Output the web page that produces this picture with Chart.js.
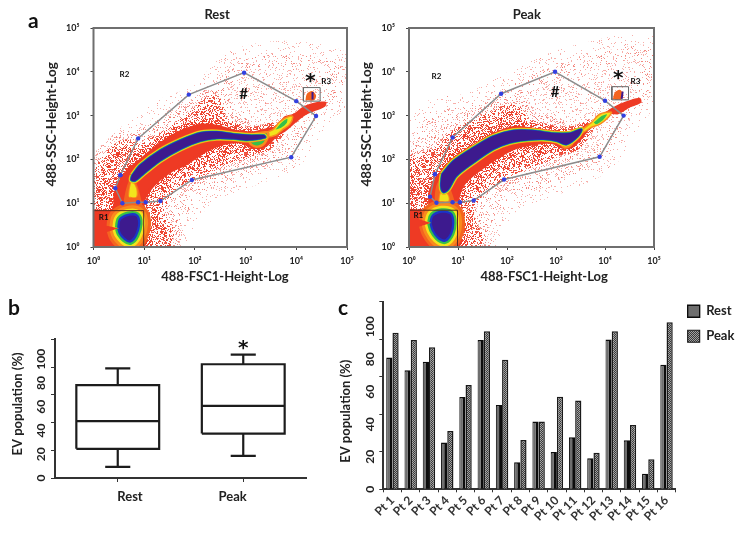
<!DOCTYPE html>
<html>
<head>
<meta charset="utf-8">
<title>EV population, rest vs peak</title>
<script src="https://cdn.jsdelivr.net/npm/chart.js@4"></script>
<style>
    html, body { margin: 0; background: #fff; }
    body { width: 744px; height: 535px; position: relative; overflow: hidden; font-family: Lato, sans-serif; }
    canvas { position: absolute; filter: blur(0.55px); }
    .panel-letter { position: absolute; font-weight: 700; font-size: 21px; line-height: 21px; color: #111; filter: blur(0.3px); }
</style>
</head>
<body>
<div class="panel-letter" style="left:28px;top:9px">a</div>
<div class="panel-letter" style="left:8px;top:296px">b</div>
<div class="panel-letter" style="left:338px;top:296px">c</div>
<canvas id="restFlow" width="320" height="289" style="left:40px;top:0"></canvas>
<canvas id="peakFlow" width="312" height="289" style="left:355px;top:0"></canvas>
<canvas id="boxChart" width="306" height="218" style="left:6px;top:300px"></canvas>
<canvas id="barChart" width="410" height="240" style="left:334px;top:295px"></canvas>
<script>
// all flow cytometry shapes are [log10 FSC, log10 SSC]

const flowTicks = [0, 1, 2, 3, 4, 5];
const superscripts = ["⁰", "¹", "²", "³", "⁴", "⁵"];

// ── Rest ──
const restGate = [[0.53,1.64],[0.88,2.48],[1.88,3.48],[2.97,3.98],[4.0,3.33],[4.39,2.99],[3.9,2.05],[1.94,1.53],[1.32,1.05],[1.03,1.02],[0.88,1.02],[0.57,1.0],[0.43,1.34]];
const restSparse = [[0.03,1.15],[0.33,2.06],[0.79,2.59],[1.45,3.12],[2.11,3.42],[2.76,4.18],[3.75,4.41],[4.87,4.18],[4.93,3.65],[4.64,3.2],[4.28,2.74],[3.88,2.06],[3.09,1.68],[2.24,1.3],[1.84,0.77],[1.58,0.17],[1.38,0],[0,0]];
const restDense = [[0.07,1.08],[0.2,1.83],[0.59,2.29],[0.92,2.21],[1.45,2.52],[1.91,2.89],[2.37,3.31],[2.53,2.82],[2.89,2.63],[3.16,2.25],[2.63,2.06],[2.11,1.76],[1.64,1.53],[1.38,1.15],[1.25,0.77],[1.45,0.32],[1.32,0],[0.07,0]];
const restSolid = [[0,0.83],[0.39,0.83],[0.43,1.23],[0.63,1.68],[0.92,1.98],[1.32,2.36],[1.71,2.63],[2.11,2.78],[2.43,2.76],[2.76,2.65],[3.16,2.61],[3.49,2.7],[3.62,2.7],[3.65,2.63],[3.36,2.29],[3.13,2.29],[2.89,2.4],[2.57,2.36],[2.24,2.21],[1.84,1.91],[1.51,1.72],[1.25,1.49],[1.02,1.15],[0.97,0.83],[0.97,0],[0,0]];
const restCore = [[0.76,1.64],[0.92,1.87],[1.32,2.21],[1.71,2.44],[2.11,2.61],[2.43,2.63],[2.76,2.58],[3.09,2.55],[3.36,2.55],[3.39,2.5],[3.03,2.44],[2.76,2.47],[2.43,2.48],[2.11,2.42],[1.71,2.23],[1.32,1.97],[0.99,1.67],[0.82,1.51],[0.74,1.53]];
const restHook = [[3.06,2.48],[3.19,2.55],[3.42,2.59],[3.36,2.4],[3.24,2.32],[3.13,2.36]];
const restTail = [[3.59,2.7],[3.75,2.97],[3.95,3.05],[4.14,3.21],[4.41,3.31],[4.59,3.31],[4.57,3.21],[4.38,3.11],[4.18,3.01],[3.98,2.83],[3.78,2.63],[3.62,2.55]];
const restTailYellow = [[3.35,2.6],[3.54,2.68],[3.67,2.86],[3.87,2.99],[3.93,2.97],[3.87,2.8],[3.72,2.67],[3.59,2.55],[3.38,2.52]];
const restTailGreen = [[3.59,2.68],[3.7,2.83],[3.82,2.93],[3.81,2.83],[3.7,2.72]];
const restColumn = [[0.56,0.77],[0.61,1.15],[0.69,1.49],[0.79,1.6],[0.92,1.18],[0.95,0.77]];
const restColumnYellow = [[0.7,1.15],[0.72,1.35],[0.76,1.49],[0.84,1.34],[0.84,1.15]];
const restNoise = [[0.51,0.43],[0.54,0.62],[0.69,0.71],[0.84,0.7],[0.88,0.53],[0.82,0.28],[0.72,0.15],[0.63,0.2],[0.54,0.32]];
const restR1 = [[0,0],[0.99,0],[0.99,0.83],[0,0.83]];
const restR3 = [[4.14,3.33],[4.47,3.33],[4.47,3.64],[4.14,3.64]];
const restBlob = [[4.18,3.35],[4.21,3.5],[4.31,3.56],[4.39,3.46],[4.35,3.35]];
const restBlobCore = [[4.32,3.54],[4.32,3.37]];
const restNotes = [
    { x: 0.2, y: 0.67, text: "R1", size: 8 },
    { x: 0.61, y: 3.94, text: "R2", size: 8 },
    { x: 4.59, y: 3.77, text: "R3", size: 8 },
    { x: 2.96, y: 3.5, text: "#", size: 15 },
    { x: 4.28, y: 3.78, text: "*", size: 20, star: true },
];

// ── Peak ──
const peakGate = [[0.53,1.66],[0.89,2.5],[1.88,3.5],[2.98,4.0],[4.0,3.34],[4.38,3.0],[3.89,2.06],[1.94,1.54],[1.32,1.06],[1.04,1.02],[0.89,1.02],[0.56,1.01],[0.43,1.15]];
const peakSparse = [[0,0.78],[0.05,2.31],[0.5,3.07],[1.24,3.22],[1.92,3.6],[2.74,4.06],[3.62,4.37],[4.98,4.6],[5,3.91],[4.84,3.45],[4.44,2.84],[3.96,2.0],[3.01,1.5],[2.06,1.08],[1.65,0.47],[1.48,0],[0,0]];
const peakDense = [[0,1.92],[0.5,2.08],[0.97,2.53],[1.58,2.88],[2.13,3.11],[2.4,2.76],[2.81,2.65],[3.28,2.42],[2.87,2.15],[2.19,1.85],[1.65,1.5],[1.31,1.16],[1.18,0.7],[1.38,0.17],[1.24,0],[0,0]];
const peakSolid = [[0,0.84],[0.39,0.84],[0.43,1.27],[0.6,1.62],[0.9,2.0],[1.31,2.31],[1.72,2.57],[2.13,2.73],[2.47,2.7],[2.81,2.65],[3.21,2.61],[3.45,2.65],[3.65,2.78],[3.62,2.65],[3.35,2.31],[3.15,2.27],[2.94,2.38],[2.6,2.37],[2.19,2.27],[1.79,2.04],[1.45,1.77],[1.14,1.47],[1.01,1.16],[0.99,0.84],[0.99,0],[0,0]];
const peakCore = [[0.67,1.66],[0.9,1.96],[1.31,2.27],[1.72,2.53],[2.13,2.66],[2.53,2.66],[2.94,2.6],[3.28,2.6],[3.52,2.69],[3.45,2.53],[3.21,2.34],[3.01,2.42],[2.74,2.46],[2.4,2.44],[2.06,2.38],[1.72,2.23],[1.31,1.92],[0.97,1.62],[0.8,1.31],[0.7,1.25],[0.65,1.39]];
const peakHook = [[3.1,2.42],[3.3,2.5],[3.3,2.36],[3.18,2.3]];
const peakTail = [[3.69,2.8],[4.1,3.15],[4.37,3.3],[4.71,3.41],[4.74,3.3],[4.5,3.18],[4.27,3.03],[4.1,3.03],[3.82,2.8],[3.65,2.65]];
const peakTailYellow = [[3.48,2.64],[3.72,2.84],[3.89,3.03],[4.13,3.08],[4.06,2.95],[3.89,2.8],[3.72,2.73],[3.5,2.58]];
const peakTailGreen = [[3.77,2.84],[3.93,2.99],[4.04,3.03],[3.96,2.9],[3.82,2.8]];
const peakColumn = [[0.53,0.78],[0.53,1.24],[0.6,1.5],[0.73,1.54],[0.9,1.16],[0.94,0.78]];
const peakColumnYellow = [[0.62,1.05],[0.64,1.2],[0.7,1.31],[0.8,1.16],[0.8,1.05]];
const peakNoise = [[0.46,0.55],[0.5,0.7],[0.67,0.78],[0.84,0.74],[0.88,0.55],[0.84,0.32],[0.73,0.17],[0.6,0.24],[0.5,0.4]];
const peakR1 = [[0,0],[0.99,0],[0.99,0.84],[0,0.84]];
const peakR3 = [[4.14,3.36],[4.48,3.36],[4.48,3.66],[4.14,3.66]];
const peakBlob = [[4.16,3.37],[4.2,3.53],[4.3,3.59],[4.37,3.49],[4.33,3.37]];
const peakBlobCore = [[4.36,3.55],[4.34,3.38]];
const peakNotes = [
    { x: 0.19, y: 0.72, text: "R1", size: 8 },
    { x: 0.56, y: 3.89, text: "R2", size: 8 },
    { x: 4.62, y: 3.77, text: "R3", size: 8 },
    { x: 2.98, y: 3.54, text: "#", size: 15 },
    { x: 4.27, y: 3.83, text: "*", size: 20, star: true },
];

// ── Box plot (b) ──
const boxLabels = ["Rest", "Peak"];
const boxLow = [8, 16];
const boxQ1 = [21, 32];
const boxMedian = [41, 52];
const boxQ3 = [67, 82];
const boxHigh = [79, 89];

// ── Bars (c) ──
const patients = ["Pt 1","Pt 2","Pt 3","Pt 4","Pt 5","Pt 6","Pt 7","Pt 8","Pt 9","Pt 10","Pt 11","Pt 12","Pt 13","Pt 14","Pt 15","Pt 16"];
const restValues = [70.2, 63.4, 68, 24.9, 49.2, 79.6, 44.9, 14.4, 36.2, 19.9, 27.7, 16.5, 79.8, 26.1, 8.3, 66.4];
const peakValues = [83.5, 79.6, 75.7, 31.1, 55.6, 84.2, 69.1, 26.3, 36.1, 49.4, 47.4, 19.5, 84.2, 34.3, 16, 89];

// printed percent labels do not line up with the tick marks in the figure,
// so they sit on their own axis with a longer range
const boxLabelMax = 116.8;
const barLabelMax = 115.4;
const percentTicks = [0, 20, 40, 60, 80, 100];

const FONT = "Lato, 'Open Sans', sans-serif";
const DARK = "#222";
const closed = pts => [...pts, pts[0]];
// axis titles sit off-centre in the figure, padding with spaces nudges them along the axis
const nudge = n => " ".repeat(n);

// speckle texture for the low density parts of the cloud
function speckle(color, density) {
    const size = 128;
    const tile = document.createElement("canvas");
    tile.width = tile.height = size;
    const c = tile.getContext("2d");
    c.fillStyle = color;
    const hash = v => { const s = Math.sin(v) * 43758.5453; return s - Math.floor(s); };
    for (let i = 1; i <= density * size * size; i++) {
        c.fillRect(Math.floor(hash(i * 12.9898) * size), Math.floor(hash(i * 78.233) * size), 1, 1);
    }
    return c.createPattern(tile, "repeat");
}

function checker() {
    const tile = document.createElement("canvas");
    tile.width = tile.height = 2;
    const c = tile.getContext("2d");
    c.fillStyle = "#a2a2a2";
    c.fillRect(0, 0, 2, 2);
    c.fillStyle = "#3a3a3a";
    c.fillRect(0, 0, 1, 1);
    c.fillRect(1, 1, 1, 1);
    return c.createPattern(tile, "repeat");
}

// text placed at data coordinates
const notesPlugin = {
    id: "notes",
    afterDatasetsDraw(chart, args, opts) {
        const { ctx, scales } = chart;
        ctx.save();
        ctx.textAlign = "center";
        ctx.textBaseline = "middle";
        ctx.fillStyle = "#111";
        (opts.items || []).forEach(n => {
            ctx.font = `700 ${n.size}px ${n.star ? "'DejaVu Sans'" : FONT}`;
            ctx.fillText(n.text, scales.x.getPixelForValue(n.x), scales.y.getPixelForValue(n.y));
        });
        ctx.restore();
    },
};

const framePlugin = {
    id: "frame",
    afterDraw(chart) {
        const { ctx, chartArea: a } = chart;
        ctx.save();
        ctx.strokeStyle = "#6f6f6f";
        ctx.lineWidth = 2;
        ctx.strokeRect(a.left, a.top, a.right - a.left, a.bottom - a.top);
        ctx.restore();
    },
};

// legend sits higher than the plot top in the figure
const legendLiftPlugin = {
    id: "legendLift",
    afterLayout(chart) {
        chart.legend.top -= 9;
    },
};

// filled region, optionally with a stroke as halo
const region = (pts, fill, halo, width) => ({
    data: closed(pts),
    showLine: true,
    pointRadius: 0,
    tension: 0.3,
    fill: fill ? "shape" : false,
    backgroundColor: fill || "transparent",
    borderColor: halo || "transparent",
    borderWidth: width || 0,
    borderJoinStyle: "round",
    clip: 0,
});

function flowDatasets(f) {
    const RED = "#ee3a24", ORANGE = "#f98a1e", YELLOW = "#f2e41c", GREEN = "#35c04a", BLUE = "#1a35c8", PURPLE = "#3d1a8e";
    const pink = "rgba(240,110,100,0.55)", scarlet = "rgba(238,63,44,0.85)";
    // painted from the back to the front, Chart.js draws the first dataset last
    const layers = [
        region(f.sparse, speckle(pink, 0.14), speckle(pink, 0.06), 26),
        region(f.dense, speckle(pink, 0.3), speckle(pink, 0.22), 30),
        region(f.dense, speckle(scarlet, 0.6), speckle(scarlet, 0.4), 14),
        region(f.solid, speckle(scarlet, 0.9), speckle(scarlet, 0.7), 12),
        region(f.solid, RED, RED, 3),
        region(f.tail, RED),
        region(f.column, "#f4641f"),
        region(f.noise, null, "#f4641f", 26),
        region(f.noise, null, ORANGE, 20),
        region(f.noise, null, YELLOW, 14),
        region(f.noise, null, GREEN, 9),
        region(f.noise, BLUE, BLUE, 4.5),
        region(f.noise, PURPLE),
        region(f.columnYellow, ORANGE, ORANGE, 2),
        region(f.columnYellow, YELLOW),
        region(f.tailYellow, YELLOW, ORANGE, 1.5),
        region(f.tailGreen, GREEN),
        region(f.hook, ORANGE, ORANGE, 5),
        region(f.hook, GREEN),
        region(f.core, null, ORANGE, 5),
        region(f.core, null, YELLOW, 3.8),
        region(f.core, null, GREEN, 2.6),
        region(f.core, BLUE, BLUE, 1.4),
        region(f.core, PURPLE),
        { data: closed(f.gate), showLine: true, borderColor: "#8c8c8c", borderWidth: 1.5, tension: 0,
          pointRadius: 2.2, pointBackgroundColor: "#3340e0", pointBorderWidth: 0 },
        { data: closed(f.r1), showLine: true, borderColor: "#5a2a20", borderWidth: 1, pointRadius: 0 },
        region(f.blob, "#f4641f"),
        { data: f.blobCore, showLine: true, borderColor: PURPLE, borderWidth: 2, pointRadius: 0 },
        { data: closed(f.r3), showLine: true, borderColor: "#666", borderWidth: 1, pointRadius: 0 },
    ];
    return layers.reverse();
}

function flowChart(id, title, yWidth, f) {
    const flowTickStyle = { color: DARK, font: { family: FONT, size: 9, weight: "700" },
        callback: v => "10" + superscripts[v] };
    return new Chart(document.getElementById(id), {
        type: "scatter",
        data: { datasets: flowDatasets(f) },
        plugins: [notesPlugin, framePlugin],
        options: {
            responsive: false,
            animation: false,
            layout: { padding: { right: 13 } },
            plugins: {
                legend: { display: false },
                tooltip: { enabled: false },
                notes: { items: f.notes },
                title: { display: true, text: title + nudge(f.titleNudge), fullSize: false, color: "#222",
                    font: { family: FONT, size: 13, weight: "700", lineHeight: 1.2 }, padding: { top: 7, bottom: 5.4 } },
            },
            scales: {
                x: {
                    type: "linear", min: 0, max: 5,
                    afterBuildTicks: s => { s.ticks = flowTicks.map(v => ({ value: v })); },
                    afterFit: s => { s.height = 42; },
                    grid: { drawOnChartArea: false, tickLength: 3, color: "#444" },
                    border: { color: "#6f6f6f" },
                    ticks: { maxRotation: 0, padding: 6, ...flowTickStyle },
                    title: { display: true, text: nudge(f.xNudge) + "488-FSC1-Height-Log", color: DARK,
                        font: { family: FONT, size: 13, weight: "700" } },
                },
                y: {
                    type: "linear", min: 0, max: 5,
                    afterBuildTicks: s => { s.ticks = flowTicks.map(v => ({ value: v })); },
                    afterFit: s => { s.width = yWidth; },
                    grid: { drawOnChartArea: false, tickLength: 3, color: "#444" },
                    border: { color: "#6f6f6f" },
                    ticks: { padding: 11, ...flowTickStyle },
                    title: { display: true, text: nudge(8) + "488-SSC-Height-Log", color: DARK,
                        font: { family: FONT, size: 13.5, weight: "700" } },
                },
            },
        },
    });
}

flowChart("restFlow", "Rest", 53.5, {
    gate: restGate, sparse: restSparse, dense: restDense, solid: restSolid, core: restCore, hook: restHook,
    tail: restTail, tailYellow: restTailYellow, tailGreen: restTailGreen, column: restColumn,
    columnYellow: restColumnYellow, noise: restNoise, r1: restR1, r3: restR3, blob: restBlob,
    blobCore: restBlobCore, notes: restNotes, titleNudge: 2, xNudge: 3,
});
flowChart("peakFlow", "Peak", 54, {
    gate: peakGate, sparse: peakSparse, dense: peakDense, solid: peakSolid, core: peakCore, hook: peakHook,
    tail: peakTail, tailYellow: peakTailYellow, tailGreen: peakTailGreen, column: peakColumn,
    columnYellow: peakColumnYellow, noise: peakNoise, r1: peakR1, r3: peakR3, blob: peakBlob,
    blobCore: peakBlobCore, notes: peakNotes, titleNudge: 3, xNudge: 8,
});

// ── b: box plot, drawn as line segments on a linear x axis ───────────────────
const BOX_HALF = 0.33, CAP_HALF = 0.1;
const boxLine = data => ({ data, showLine: true, pointRadius: 0, borderColor: "#1c1c1c", borderWidth: 2.2, tension: 0 });
const boxSets = [];
boxLabels.forEach((name, i) => {
    boxSets.push(boxLine([[i - BOX_HALF, boxQ1[i]], [i + BOX_HALF, boxQ1[i]], [i + BOX_HALF, boxQ3[i]], [i - BOX_HALF, boxQ3[i]], [i - BOX_HALF, boxQ1[i]]]));
    boxSets.push(boxLine([[i - BOX_HALF, boxMedian[i]], [i + BOX_HALF, boxMedian[i]]]));
    boxSets.push(boxLine([[i, boxQ1[i]], [i, boxLow[i]]]));
    boxSets.push(boxLine([[i - CAP_HALF, boxLow[i]], [i + CAP_HALF, boxLow[i]]]));
    boxSets.push(boxLine([[i, boxQ3[i]], [i, boxHigh[i]]]));
    boxSets.push(boxLine([[i - CAP_HALF, boxHigh[i]], [i + CAP_HALF, boxHigh[i]]]));
});

new Chart(document.getElementById("boxChart"), {
    type: "scatter",
    data: { datasets: boxSets },
    plugins: [notesPlugin],
    options: {
        responsive: false,
        animation: false,
        layout: { padding: { top: 39.3, right: 6 } },
        plugins: {
            legend: { display: false },
            tooltip: { enabled: false },
            notes: { items: [{ x: 1, y: 93, text: "*", size: 20, star: true }] },
        },
        scales: {
            x: {
                type: "linear", min: -0.5, max: 1.5, weight: 0,
                afterBuildTicks: s => { s.ticks = boxLabels.map((n, i) => ({ value: i })); },
                afterFit: s => { s.height = 4; },
                grid: { drawOnChartArea: false, tickLength: 4, color: "#333" },
                border: { color: "#333", width: 2 },
                ticks: { display: false },
            },
            // printed category names, a little off their tick marks in the figure
            xNames: {
                type: "linear", position: "bottom", min: -0.73, max: 1.714, weight: 1,
                afterBuildTicks: s => { s.ticks = boxLabels.map((n, i) => ({ value: i })); },
                afterFit: s => { s.height = 36; },
                grid: { display: false },
                border: { display: false },
                ticks: { padding: -1, maxRotation: 0, color: DARK, font: { family: FONT, size: 13, weight: "700" },
                    callback: v => boxLabels[v] },
            },
            y: {
                type: "linear", min: 0, max: 100, weight: 0,
                afterBuildTicks: s => { s.ticks = percentTicks.map(v => ({ value: v })); },
                afterFit: s => { s.width = 5; },
                grid: { drawOnChartArea: false, tickLength: 4, color: "#333" },
                border: { color: "#333", width: 2 },
                ticks: { display: false },
            },
            yLabels: {
                type: "linear", position: "left", min: 0, max: boxLabelMax, weight: 1,
                afterBuildTicks: s => { s.ticks = percentTicks.map(v => ({ value: v })); },
                afterFit: s => { s.width = 44; },
                grid: { display: false },
                border: { display: false },
                ticks: { minRotation: 90, maxRotation: 90, crossAlign: "center", padding: -10, color: DARK,
                    font: { family: FONT, size: 12, weight: "700" } },
                title: { display: true, text: nudge(3) + "EV population (%)", color: DARK, font: { family: FONT, size: 13, weight: "700" } },
            },
        },
    },
});

// ── c: bars per patient ──────────────────────────────────────────────────────
new Chart(document.getElementById("barChart"), {
    type: "bar",
    data: {
        labels: patients,
        datasets: [
            { label: "Rest", data: restValues, backgroundColor: "#6e6e6e", borderColor: "#0c0c0c",
              borderWidth: { top: 1.5, left: 1, right: 3, bottom: 0 }, borderSkipped: false },
            { label: "Peak", data: peakValues, backgroundColor: checker(), borderColor: "#1a1a1a",
              borderWidth: { top: 1.5, left: 1.5, right: 1.5, bottom: 0 }, borderSkipped: false },
        ],
    },
    plugins: [legendLiftPlugin],
    options: {
        responsive: false,
        animation: false,
        layout: { padding: { top: 6.7 } },
        datasets: { bar: { categoryPercentage: 0.68, barPercentage: 1 } },
        plugins: {
            tooltip: { enabled: false },
            legend: {
                position: "right", align: "start",
                labels: { boxWidth: 12, boxHeight: 12, padding: 12, color: DARK,
                    font: { family: FONT, size: 13, weight: "700" } },
            },
        },
        scales: {
            x: {
                afterFit: s => { s.height = 45.7; },
                grid: { drawOnChartArea: false, tickLength: 3, color: "#333" },
                border: { color: "#333", width: 2 },
                ticks: { autoSkip: false, minRotation: 45, maxRotation: 45, padding: 1, color: "#333",
                    font: { family: FONT, size: 12, weight: "700" } },
            },
            y: {
                type: "linear", min: 0, max: 100, weight: 0,
                afterBuildTicks: s => { s.ticks = percentTicks.map(v => ({ value: v })); },
                afterFit: s => { s.width = 5; },
                grid: { drawOnChartArea: false, tickLength: 4, color: "#333" },
                border: { color: "#333", width: 2 },
                ticks: { display: false },
            },
            yLabels: {
                type: "linear", position: "left", min: 0, max: barLabelMax, weight: 1,
                afterBuildTicks: s => { s.ticks = percentTicks.map(v => ({ value: v })); },
                afterFit: s => { s.width = 44.3; },
                grid: { display: false },
                border: { display: false },
                ticks: { minRotation: 90, maxRotation: 90, crossAlign: "center", padding: -10, color: DARK,
                    font: { family: FONT, size: 12, weight: "700" } },
                title: { display: true, text: "EV population (%)" + nudge(10), color: DARK, font: { family: FONT, size: 13, weight: "700" } },
            },
        },
    },
});
</script>
</body>
</html>
